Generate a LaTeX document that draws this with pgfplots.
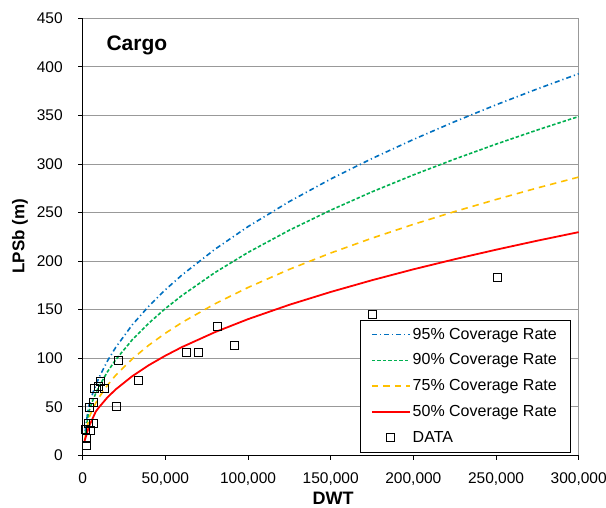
\documentclass[border=0pt]{standalone}
\usepackage{fontspec}
\setmainfont{Liberation Sans}
\usepackage{pgfplots}
\pgfplotsset{compat=1.18}
\definecolor{cBlue}{RGB}{0,112,192}
\definecolor{cGreen}{RGB}{0,176,80}
\definecolor{cYellow}{RGB}{255,192,0}
\definecolor{cRed}{RGB}{255,0,0}
\begin{document}
\begin{tikzpicture}
\useasboundingbox (-82.7pt,-52.7pt) rectangle (523.3pt,455.3pt);
\begin{axis}[name=ax, scale only axis, width=496pt, height=437pt,
  at={(0,0)}, anchor=south west,
  xmin=0, xmax=300000, ymin=0, ymax=450,
  xtick={0,50000,100000,150000,200000,250000,300000},
  xticklabels={0,{50,000},{100,000},{150,000},{200,000},{250,000},{300,000}},
  ytick={0,50,100,150,200,250,300,350,400,450},
  yticklabels={0,50,100,150,200,250,300,350,400,450},
  scaled x ticks=false,
  axis x line*=bottom, axis y line*=left,
  axis line style={-, black, line width=1.1pt},
  tick style={black, line width=0.8pt},
  tick align=outside, major tick length=4.5pt,
  ymajorgrids, grid style={gray!80, line width=0.8pt},
  ticklabel style={font=\fontsize{15.5}{15.5}\selectfont},
  xticklabel style={yshift=-9pt},
  yticklabel style={xshift=-12pt},
  xlabel={DWT}, ylabel={LPSb (m)},
  xlabel style={at={(rel axis cs:0.505,-0.0975)}, anchor=center, font=\fontsize{18}{18}\selectfont\bfseries},
  ylabel style={at={(rel axis cs:-0.1264,0.501)}, anchor=center, font=\fontsize{17}{17}\selectfont\bfseries},
  legend cell align=left,
  legend style={at={(rel axis cs:0.9825,0.0076)}, anchor=south east, draw=black,
    font=\fontsize{16}{16}\selectfont, row sep=6.8pt, inner xsep=11pt, inner ysep=4.5pt,
    nodes={inner sep=2pt, text height=12pt, text depth=3pt}},
  legend image code/.code={\draw[mark repeat=2, mark phase=2, #1] plot coordinates {(0pt,0pt) (19pt,0pt) (38pt,0pt)};},
  clip=false,
]
\draw[gray!80, line width=0.8pt] (rel axis cs:1,0) -- (rel axis cs:1,1);
\addplot[cBlue, line width=1.6pt, dash pattern=on 5pt off 3pt on 1.2pt off 3pt] coordinates {
(1500,25) (3000,44) (4000,52.5) (6000,63.5) (8000,72.6) (10000,80.5) (15000,97.3) (20000,111.2) (30000,134.4) (40000,153.6) (50000,170.5) (60000,185.6) (80000,212.2) (100000,235.5) (125000,261.3) (150000,284.5) (175000,305.6) (200000,325.2) (225000,343.6) (250000,360.9) (275000,377.3) (300000,392.9)};
\addlegendentry{95\% Coverage Rate}
\addplot[cGreen, line width=1.6pt, dash pattern=on 3.5pt off 2pt] coordinates {
(1500,22) (3000,38) (4000,46.4) (6000,56.1) (8000,64.2) (10000,71.3) (15000,86.1) (20000,98.5) (30000,119.0) (40000,136.1) (50000,151.1) (60000,164.5) (80000,188.2) (100000,208.9) (125000,231.8) (150000,252.4) (175000,271.3) (200000,288.7) (225000,305.0) (250000,320.4) (275000,335.0) (300000,348.9)};
\addlegendentry{90\% Coverage Rate}
\addplot[cYellow, line width=1.6pt, dash pattern=on 6.5pt off 5pt] coordinates {
(1200,16) (2800,30) (4000,39.3) (6000,47.4) (8000,54.1) (10000,59.9) (15000,72.2) (20000,82.5) (30000,99.3) (40000,113.4) (50000,125.7) (60000,136.7) (80000,156.0) (100000,172.8) (125000,191.5) (150000,208.3) (175000,223.6) (200000,237.8) (225000,251.0) (250000,263.4) (275000,275.3) (300000,286.5)};
\addlegendentry{75\% Coverage Rate}
\addplot[cRed, line width=1.8pt] coordinates {
(1000,14) (3800,29.7) (7900,45) (10000,49.7) (15000,59.7) (20000,67.9) (30000,81.5) (40000,92.8) (50000,102.6) (60000,111.4) (80000,126.8) (100000,140.2) (125000,155.0) (150000,168.2) (175000,180.3) (200000,191.5) (225000,201.9) (250000,211.7) (275000,221.0) (300000,229.8)};
\addlegendentry{50\% Coverage Rate}
\addplot[only marks, mark=square, mark size=4pt, black, line width=0.8pt, mark options={fill=none}] coordinates {
(2200,9.8) (2200,17.7) (1800,26.3) (4800,25.5) (3400,32.4) (6200,32.4) (4200,49.6) (6200,54.8) (7300,69.2) (9300,70.8) (10900,76) (12900,69.2) (20600,50.3) (21300,97.3) (33400,77) (62900,105.9) (69900,105.9) (81400,132.6) (91700,112.8) (175400,145.4) (250700,183.1)};
\addlegendentry{DATA}
\node[anchor=west, font=\fontsize{21}{21}\selectfont\bfseries] at (rel axis cs:0.041,0.939) {Cargo};
\end{axis}
\end{tikzpicture}
\end{document}
